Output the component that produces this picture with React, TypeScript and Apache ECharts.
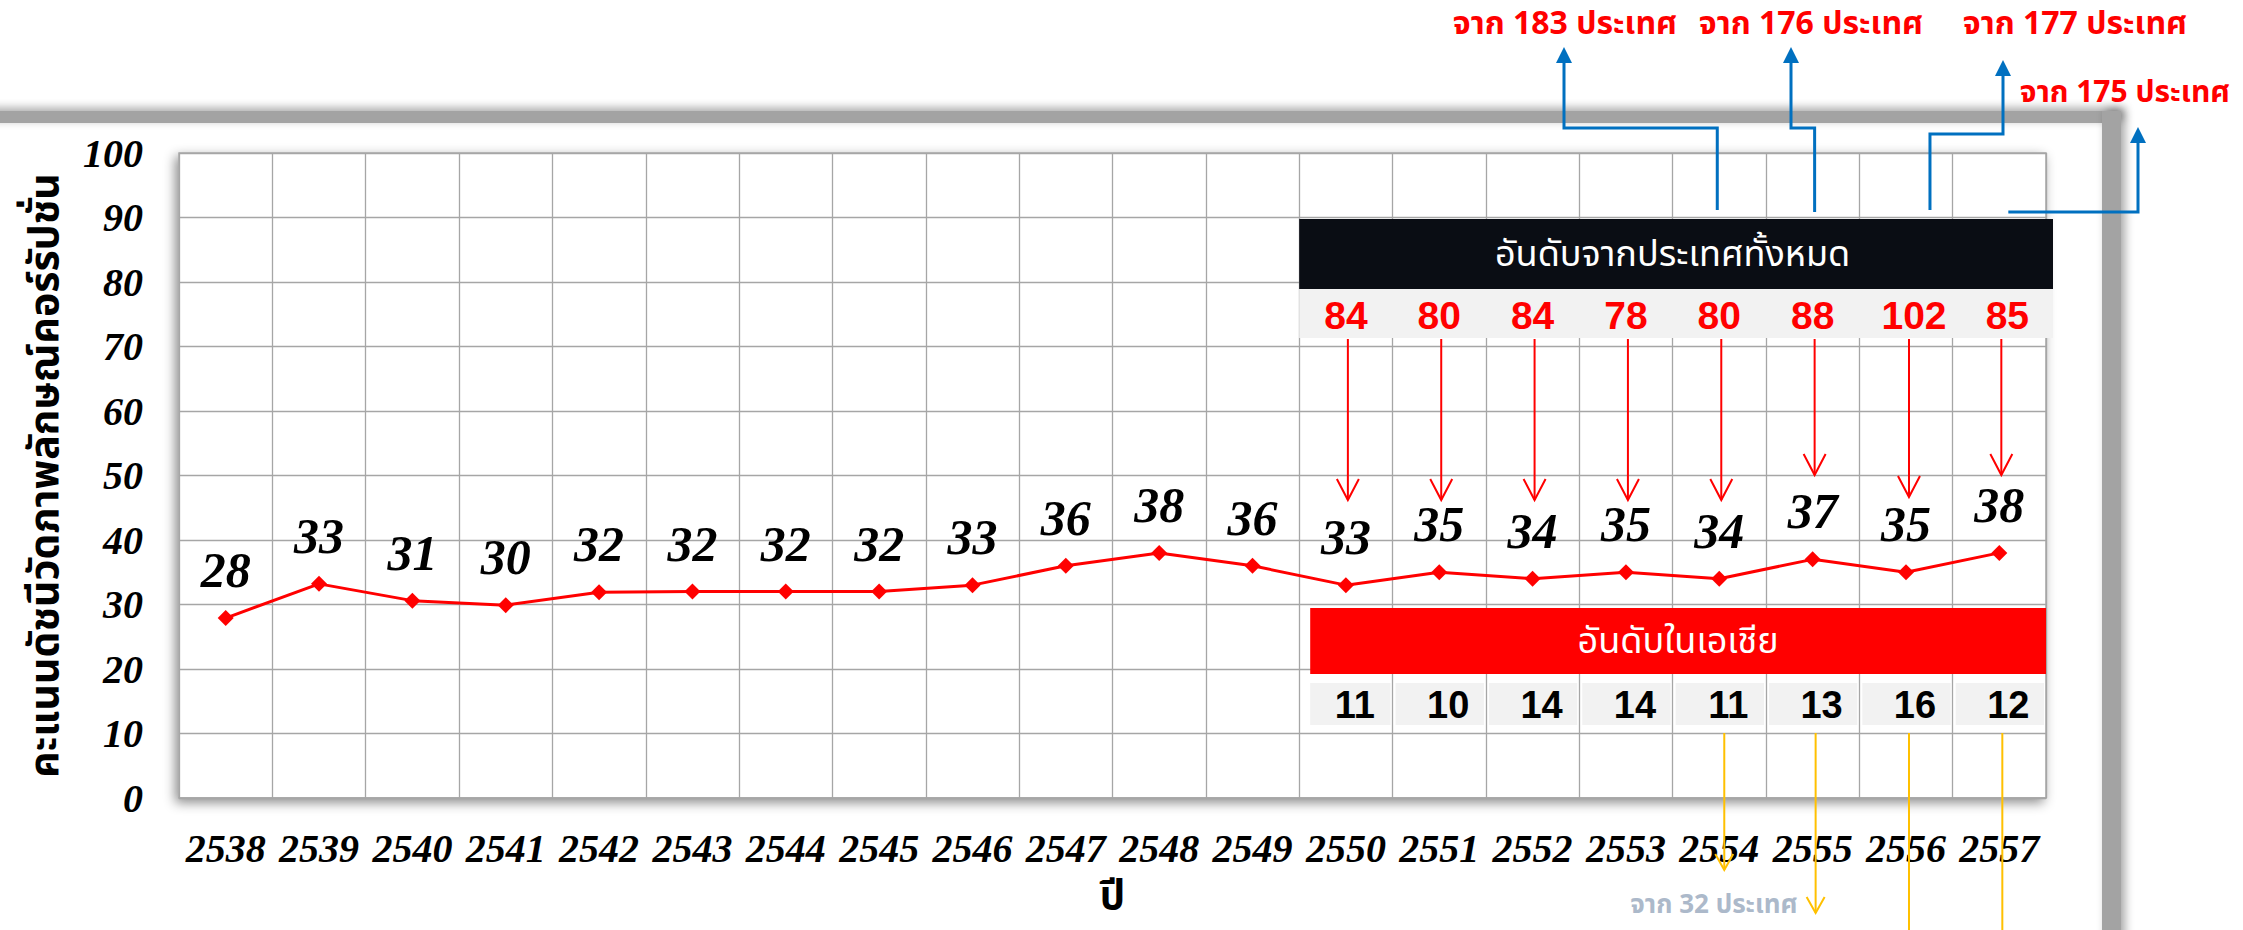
import React, { useEffect, useRef } from 'react';
import * as echarts from 'echarts';

// ---------- data ----------
const years = ['2538', '2539', '2540', '2541', '2542', '2543', '2544', '2545', '2546', '2547', '2548', '2549', '2550', '2551', '2552', '2553', '2554', '2555', '2556', '2557'];
const scores = [27.9, 33.2, 30.6, 29.9, 31.9, 32, 32, 32, 33, 36, 38, 36, 33, 35, 34, 35, 34, 37, 35, 38];
const rankYears = ['2550', '2551', '2552', '2553', '2554', '2555', '2556', '2557'];
const worldRank = [84, 80, 84, 78, 80, 88, 102, 85];
const asiaRank = [11, 10, 14, 14, 11, 13, 16, 12];
const worldCountYears = ['2554', '2555', '2556', '2557'];
const worldCountLabels = ['จาก 183 ประเทศ', 'จาก 176 ประเทศ', 'จาก 177 ประเทศ', 'จาก 175 ประเทศ'];
const asiaCountLabel = 'จาก 32 ประเทศ';
const worldTitle = 'อันดับจากประเทศทั้งหมด';
const asiaTitle = 'อันดับในเอเชีย';
const yAxisName = 'คะแนนดัชนีวัดภาพลักษณ์คอร์รัปชั่น';
const xAxisName = 'ปี';

// ---------- layout ----------
const W = 2243;
const H = 930;
const GRID = { left: 179, top: 153, width: 1867, height: 645 };
const SCRIPT = '"Liberation Serif", serif';
const THAI = '"Noto Sans Thai", "Loma", "Garuda", "Tahoma", "Noto Sans", sans-serif';
const RED = '#ff0000';
const BLUE = '#0070c0';
const YELLOW = '#ffc000';

export default function App() {
  const ref = useRef<HTMLDivElement>(null);

  useEffect(() => {
    const el = ref.current;
    if (!el) return;
    const chart = echarts.init(el, null, { renderer: 'svg' });
    const option: any = {
      animation: false,
      backgroundColor: '#ffffff',
      grid: {
        left: GRID.left,
        top: GRID.top,
        width: GRID.width,
        height: GRID.height,
        outerBoundsMode: 'none',
        containLabel: false,
        show: true,
        backgroundColor: '#ffffff',
        borderColor: '#a6a6a6',
        borderWidth: 1.5,
        shadowColor: 'rgba(0,0,0,0.45)',
        shadowBlur: 12,
        shadowOffsetX: -3,
        shadowOffsetY: 4,
      },
      xAxis: {
        type: 'category',
        data: years,
        boundaryGap: true,
        name: xAxisName,
        nameLocation: 'middle',
        nameGap: 82,
        nameTextStyle: { fontFamily: THAI, fontWeight: 'bold', fontSize: 40, lineHeight: 34, color: '#000' },
        axisLine: { show: true, lineStyle: { color: '#a6a6a6', width: 1.5 } },
        axisTick: { show: false },
        splitLine: { show: true, lineStyle: { color: '#a6a6a6', width: 1.3 } },
        axisLabel: {
          margin: 30,
          fontFamily: SCRIPT,
          fontStyle: 'italic',
          fontWeight: 'bold',
          fontSize: 40,
          color: '#000',
          interval: 0,
        },
      },
      yAxis: {
        type: 'value',
        min: 0,
        max: 100,
        interval: 10,
        name: yAxisName,
        nameLocation: 'middle',
        nameRotate: 90,
        nameGap: 114,
        nameTextStyle: { fontFamily: THAI, fontWeight: 'bold', fontSize: 41, color: '#000' },
        axisLine: { show: false },
        axisTick: { show: false },
        splitLine: { show: true, lineStyle: { color: '#a6a6a6', width: 1.3 } },
        axisLabel: {
          margin: 36,
          fontFamily: SCRIPT,
          fontStyle: 'italic',
          fontWeight: 'bold',
          fontSize: 40,
          color: '#000',
        },
      },
      series: [
        {
          type: 'line',
          data: scores,
          symbol: 'diamond',
          symbolSize: [16, 16],
          lineStyle: { color: RED, width: 3 },
          itemStyle: { color: RED },
          label: {
            show: true,
            position: 'top',
            distance: 15,
            formatter: (p: any) => String(Math.round(p.value)),
            fontFamily: SCRIPT,
            fontStyle: 'italic',
            fontWeight: 'bold',
            fontSize: 50,
            color: '#000',
          },
          z: 5,
        },
      ],
    };
    chart.setOption(option);

    const cx = (y: string) => chart.convertToPixel({ xAxisIndex: 0 }, y) as number;
    const catW = GRID.width / years.length;
    const right = GRID.left + GRID.width;
    const g: any[] = [];

    // outer frame (top + right bands)
    g.push({
      type: 'rect', z: 1,
      shape: { x: -30, y: 111, width: 2151, height: 12 },
      style: { fill: '#a3a3a3', shadowBlur: 10, shadowColor: 'rgba(0,0,0,0.35)', shadowOffsetX: 2, shadowOffsetY: -3 },
    });
    g.push({
      type: 'rect', z: 1,
      shape: { x: 2102, y: 111, width: 19, height: 840 },
      style: { fill: '#a3a3a3', shadowBlur: 10, shadowColor: 'rgba(0,0,0,0.35)', shadowOffsetX: 4, shadowOffsetY: -2 },
    });

    // world ranking table
    const x0 = cx(rankYears[0]) - catW / 2;
    g.push({ type: 'rect', z: 20, shape: { x: x0, y: 219, width: right + 7 - x0, height: 70 }, style: { fill: '#0a0d14' } });
    g.push({ type: 'rect', z: 20, shape: { x: x0, y: 289, width: right + 7 - x0, height: 49 }, style: { fill: '#f2f2f2' } });
    g.push({
      type: 'text', z: 21, x: (x0 + right) / 2, y: 255,
      style: { text: worldTitle, fill: '#ffffff', font: `36px ${THAI}`, align: 'center', verticalAlign: 'middle' },
    });
    const tipY = [500, 500, 500, 500, 500, 475, 497, 475];
    rankYears.forEach((yr, i) => {
      const x = cx(yr) + (i >= 6 ? 8 : 0);
      g.push({
        type: 'text', z: 21, x, y: 315,
        style: { text: String(worldRank[i]), fill: RED, font: `bold 39px "Liberation Sans", sans-serif`, align: 'center', verticalAlign: 'middle' },
      });
      const ax = cx(yr) + (i === 6 ? 3 : 2);
      const t = tipY[i];
      g.push({ type: 'line', z: 21, shape: { x1: ax, y1: 339, x2: ax, y2: t }, style: { stroke: RED, lineWidth: 2 } });
      g.push({ type: 'polyline', z: 21, shape: { points: [[ax - 11, t - 21], [ax, t], [ax + 11, t - 21]] }, style: { stroke: RED, lineWidth: 2, fill: null } });
    });

    // asia ranking table
    const ax0 = x0 + 11;
    g.push({ type: 'rect', z: 20, shape: { x: ax0, y: 608, width: right - ax0, height: 66 }, style: { fill: RED } });
    g.push({
      type: 'text', z: 21, x: (ax0 + right) / 2, y: 642,
      style: { text: asiaTitle, fill: '#ffffff', font: `36px ${THAI}`, align: 'center', verticalAlign: 'middle' },
    });
    rankYears.forEach((yr, i) => {
      const c = cx(yr);
      const left = i === 0 ? ax0 : c - catW / 2 + 3;
      const w = c + catW / 2 - 2 - left;
      g.push({ type: 'rect', z: 20, shape: { x: left, y: 683, width: w, height: 42 }, style: { fill: '#f2f2f2' } });
      g.push({
        type: 'text', z: 21, x: c + 9, y: 705,
        style: { text: String(asiaRank[i]), fill: '#000', font: `bold 38px "Liberation Sans", sans-serif`, align: 'center', verticalAlign: 'middle' },
      });
    });

    // yellow arrows below asia table
    const yTips = [870, 913, 960, 960];
    worldCountYears.forEach((yr, i) => {
      const x = cx(yr) + (i === 0 ? 5 : 3);
      const t = yTips[i];
      g.push({ type: 'line', z: 22, shape: { x1: x, y1: 733, x2: x, y2: t }, style: { stroke: YELLOW, lineWidth: 2 } });
      if (t < H) {
        g.push({ type: 'polyline', z: 22, shape: { points: [[x - 9, t - 16], [x, t], [x + 9, t - 16]] }, style: { stroke: YELLOW, lineWidth: 2, fill: null } });
      }
    });
    g.push({
      type: 'text', z: 21, x: 1714, y: 905,
      style: { text: asiaCountLabel, fill: '#acb9ca', font: `bold 26px ${THAI}`, align: 'center', verticalAlign: 'middle' },
    });

    // blue arrows to total-country captions
    const c16 = cx(worldCountYears[0]);
    const c17 = cx(worldCountYears[1]);
    const c18 = cx(worldCountYears[2]);
    const c19 = cx(worldCountYears[3]);
    const bluePaths = [
      { pts: [[c16 - 2, 210], [c16 - 2, 128], [1564, 128], [1564, 62]], tip: [1564, 47] },
      { pts: [[c17 + 2, 212], [c17 + 2, 128], [1791, 128], [1791, 62]], tip: [1791, 47] },
      { pts: [[c18 + 24, 210], [c18 + 24, 134], [2003, 134], [2003, 75]], tip: [2003, 60] },
      { pts: [[c19 + 9, 212], [2138, 212], [2138, 142]], tip: [2138, 127] },
    ];
    bluePaths.forEach((b) => {
      g.push({ type: 'polyline', z: 22, shape: { points: b.pts }, style: { stroke: BLUE, lineWidth: 3, fill: null } });
      const [tx, ty] = b.tip;
      g.push({ type: 'polygon', z: 22, shape: { points: [[tx - 8, ty + 16], [tx, ty], [tx + 8, ty + 16]] }, style: { fill: BLUE } });
    });
    const capPos = [[1565, 24, 32], [1811, 24, 32], [2075, 24, 32], [2125, 93, 30]];
    worldCountLabels.forEach((txt, i) => {
      const [x, y, fs] = capPos[i];
      g.push({
        type: 'text', z: 22, x, y,
        style: { text: txt, fill: RED, font: `bold ${fs}px ${THAI}`, align: 'center', verticalAlign: 'middle' },
      });
    });

    chart.setOption({ graphic: g });
    return () => chart.dispose();
  }, []);

  return <div ref={ref} style={{ position: 'absolute', left: 0, top: 0, width: W, height: H }} />;
}
